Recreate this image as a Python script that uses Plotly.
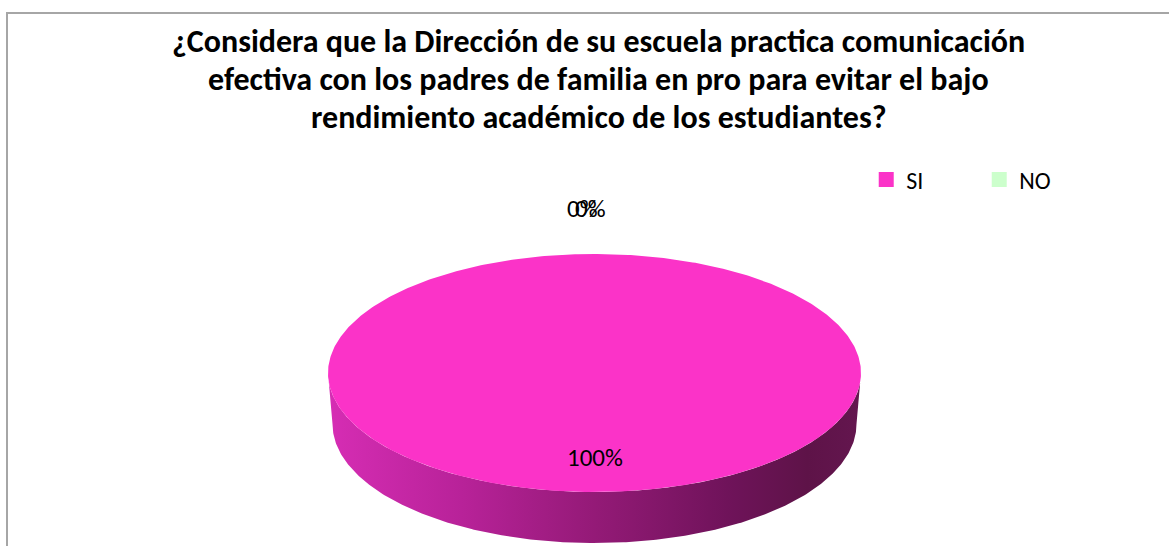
import numpy as np
import plotly.graph_objects as go

# ---- data ----
categories = ["SI", "NO"]
values = [100, 0]
slice_colors = ["#FB33C8", "#CCFFCC"]
pct_labels = ["100%", "0%"]
title_lines = [
    "¿Considera que la Dirección de su escuela practica comunicación",
    "efectiva con los padres de familia en pro para evitar el bajo",
    "rendimiento académico de los estudiantes?",
]

# ---- layout / geometry (styling) ----
W, H = 1169, 546
cx, cy, rx, ry = 594.5, 373.0, 266.5, 119.0
depth = 51.0
rxb = 262.0
side_scale = [[0.0, "#D62DB4"], [0.25, "#B82299"], [0.5, "#941A77"],
              [0.75, "#6F135A"], [0.9, "#5E1348"], [1.0, "#64164F"]]
FONT = "Carlito, Lato, sans-serif"

fig = go.Figure()

total = float(sum(values))
start = 0.0
slices = []
for cat, v, col in zip(categories, values, slice_colors):
    a0 = start / total * 360.0
    a1 = (start + v) / total * 360.0
    start += v
    slices.append((cat, v, col, a0, a1))

# side walls (front half only: angles 90..270 measured clockwise from 12 o'clock)
for cat, v, col, a0, a1 in slices:
    if v <= 0:
        continue
    lo, hi = max(a0, 90.0), min(a1, 270.0)
    if hi <= lo:
        continue
    phi = np.radians(np.linspace(lo, hi, 300))
    xt = cx + rx * np.sin(phi)
    yt = cy - ry * np.cos(phi)
    pb = phi[::-1]
    xb = cx + rxb * np.sin(pb)
    yb = cy + depth - ry * np.cos(pb)
    fig.add_trace(go.Scatter(
        x=np.concatenate([xt, xb, xt[:1]]),
        y=np.concatenate([yt, yb, yt[:1]]),
        mode="lines", line=dict(width=0), fill="toself",
        fillgradient=dict(type="horizontal", colorscale=side_scale),
        hoverinfo="skip", showlegend=False))

# top faces
for cat, v, col, a0, a1 in slices:
    if v <= 0:
        continue
    phi = np.radians(np.linspace(a0, a1, 600))
    xs = np.concatenate([[cx], cx + rx * np.sin(phi), [cx]])
    ys = np.concatenate([[cy], cy - ry * np.cos(phi), [cy]])
    fig.add_trace(go.Scatter(
        x=xs, y=ys, mode="lines", line=dict(width=0, color=col),
        fill="toself", fillcolor=col, hoverinfo="skip", showlegend=False))

# legend entries
for cat, col in zip(categories, slice_colors):
    fig.add_trace(go.Scatter(
        x=[None], y=[None], mode="markers", name=cat,
        marker=dict(symbol="square", size=15, color=col, line=dict(width=0))))

annotations = []
# data labels
for (cat, v, col, a0, a1), lab in zip(slices, pct_labels):
    mid = np.radians((a0 + a1) / 2.0)
    k = 0.71 if v > 0 else 1.38
    lx = cx + k * rx * np.sin(mid)
    ly = cy - k * ry * np.cos(mid)
    if v == 0:
        lx -= 4
    annotations.append(dict(
        x=lx, y=ly, text=lab, showarrow=False, xref="x", yref="y",
        font=dict(family=FONT, size=25, color="#000000")))
    if v == 0:
        annotations.append(dict(
            x=lx - 8, y=ly, text=lab, showarrow=False, xref="x", yref="y",
            font=dict(family=FONT, size=25, color="#000000")))

# title lines
for i, t in enumerate(title_lines):
    annotations.append(dict(
        x=598.5, y=41 + 38 * i, text="<b>" + t + "</b>", showarrow=False,
        xref="x", yref="y",
        font=dict(family=FONT, size=32, color="#000000")))

fig.update_layout(
    width=W, height=H, autosize=False,
    margin=dict(l=0, r=0, t=0, b=0),
    paper_bgcolor="white", plot_bgcolor="white",
    xaxis=dict(range=[0, W], visible=False, fixedrange=True),
    yaxis=dict(range=[H, 0], visible=False, fixedrange=True),
    showlegend=True,
    legend=dict(orientation="h", x=0.741, y=1 - 180 / H, xanchor="left",
                yanchor="middle", font=dict(family=FONT, size=24, color="#000000"),
                bgcolor="rgba(0,0,0,0)", entrywidth=68, entrywidthmode="pixels",
                itemclick=False, itemdoubleclick=False),
    annotations=annotations,
    shapes=[dict(type="rect", xref="x", yref="y", x0=7, y0=13, x1=W + 20, y1=H + 20,
                 line=dict(color="#A6A6A6", width=2), fillcolor="rgba(0,0,0,0)",
                 layer="below")],
)

post = (
    "document.body.style.margin='0';"
    "document.body.style.overflow='hidden';"
    "var gd=document.getElementById('{plot_id}');"
    "Plotly.relayout(gd,{width:1169,height:546});"
)
fig.write_html("out.html", config={"responsive": False, "displayModeBar": False},
               post_script=post)
